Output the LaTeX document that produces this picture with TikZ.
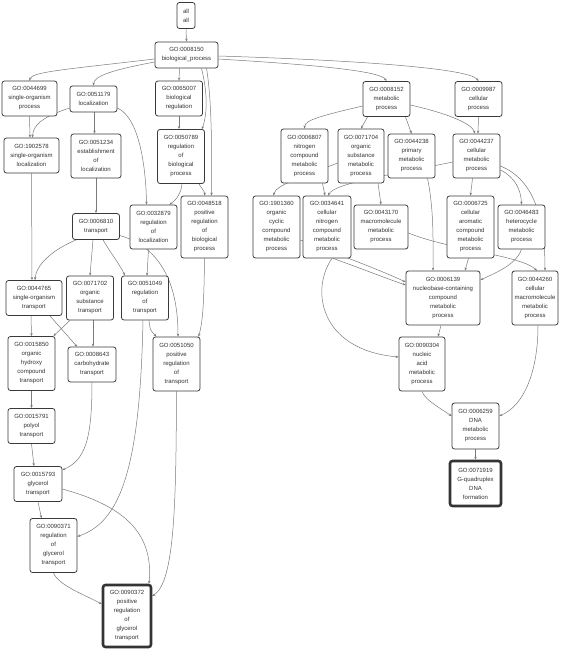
\documentclass[tikz,border=0pt]{standalone}
\usepackage{fontspec}
\setmainfont{Liberation Sans}
\usetikzlibrary{arrows.meta,backgrounds}
\definecolor{edgecol}{HTML}{7A7A7A}
\definecolor{boxcol}{HTML}{3A3A3A}
\definecolor{txtcol}{HTML}{333333}
\begin{document}
\begin{tikzpicture}[x=1pt,y=-1pt,
  gobox/.style={draw=boxcol, line width=0.8pt, rounded corners=2.5pt, fill=white,
    align=center, font=\fontsize{6}{9}\selectfont, text=txtcol, inner sep=0pt,
    minimum width=47pt},
  leafbox/.style={gobox, line width=2.6pt, draw=boxcol!90!black},
  h2/.style={minimum height=26pt},
  h3/.style={minimum height=35pt},
  h4/.style={minimum height=44pt},
  h5/.style={minimum height=54pt},
  h6/.style={minimum height=62pt},
  edge/.style={draw=edgecol, line width=0.5pt, -{Stealth[length=3pt,width=2.4pt]}}]
\useasboundingbox (0,0) rectangle (567,651);
% ---------- nodes ----------
\node[gobox,h2,minimum width=18pt] (nall) at (186,15.5) {all\\all};
\node[gobox,h2,minimum width=63pt] (n8150) at (186.5,55) {GO:0008150\\biological\_process};
\node[gobox,h3,minimum width=55pt] (n44699) at (29.5,98.5) {GO:0044699\\single-organism\\process};
\node[gobox,h2] (n51179) at (93.5,99) {GO:0051179\\localization};
\node[gobox,h3] (n65007) at (179,98.5) {GO:0065007\\biological\\regulation};
\node[gobox,h5] (n50789) at (181,156.5) {GO:0050789\\regulation\\of\\biological\\process};
\node[gobox,h3,minimum width=55pt] (n1902578) at (31.5,155.5) {GO:1902578\\single-organism\\localization};
\node[gobox,h4,minimum width=50pt] (n51234) at (96,156) {GO:0051234\\establishment\\of\\localization};
\node[gobox,h2] (n6810) at (96,226.5) {GO:0006810\\transport};
\node[gobox,h4] (n32879) at (153.5,227) {GO:0032879\\regulation\\of\\localization};
\node[gobox,h6] (n48518) at (204.5,227) {GO:0048518\\positive\\regulation\\of\\biological\\process};
\node[gobox,h3,minimum width=56pt] (n44765) at (34,298) {GO:0044765\\single-organism\\transport};
\node[gobox,h4] (n71702) at (90,298) {GO:0071702\\organic\\substance\\transport};
\node[gobox,h4] (n51049) at (145,298) {GO:0051049\\regulation\\of\\transport};
\node[gobox,h5] (n15850) at (31.5,363.5) {GO:0015850\\organic\\hydroxy\\compound\\transport};
\node[gobox,h3,minimum width=48pt] (n8643) at (92,364.5) {GO:0008643\\carbohydrate\\transport};
\node[gobox,h5] (n51050) at (176.5,364) {GO:0051050\\positive\\regulation\\of\\transport};
\node[gobox,h3] (n15791) at (31.5,426) {GO:0015791\\polyol\\transport};
\node[gobox,h3,minimum width=48pt] (n15793) at (38,484) {GO:0015793\\glycerol\\transport};
\node[gobox,h5] (n90371) at (53.5,545.5) {GO:0090371\\regulation\\of\\glycerol\\transport};
\node[leafbox,h6,minimum width=48pt,minimum height=62pt] (n90372) at (127,616) {GO:0090372\\positive\\regulation\\of\\glycerol\\transport};
% right part
\node[gobox,h3] (n8152) at (386.5,99) {GO:0008152\\metabolic\\process};
\node[gobox,h3] (n9987) at (478.5,99) {GO:0009987\\cellular\\process};
\node[gobox,h5] (n6807) at (304.5,156) {GO:0006807\\nitrogen\\compound\\metabolic\\process};
\node[gobox,h5,minimum width=46pt] (n71704) at (361,156) {GO:0071704\\organic\\substance\\metabolic\\process};
\node[gobox,h4] (n44238) at (411.5,156) {GO:0044238\\primary\\metabolic\\process};
\node[gobox,h4] (n44237) at (476.5,156) {GO:0044237\\cellular\\metabolic\\process};
\node[gobox,h6] (n1901360) at (276.5,227) {GO:1901360\\organic\\cyclic\\compound\\metabolic\\process};
\node[gobox,h6,minimum width=48pt] (n34641) at (327,227) {GO:0034641\\cellular\\nitrogen\\compound\\metabolic\\process};
\node[gobox,h4,minimum width=54pt] (n43170) at (381,227) {GO:0043170\\macromolecule\\metabolic\\process};
\node[gobox,h6] (n6725) at (470.5,227) {GO:0006725\\cellular\\aromatic\\compound\\metabolic\\process};
\node[gobox,h4] (n46483) at (521.5,227) {GO:0046483\\heterocycle\\metabolic\\process};
\node[gobox,h5,minimum width=74pt] (n6139) at (443,298) {GO:0006139\\nucleobase-containing\\compound\\metabolic\\process};
\node[gobox,h5,minimum width=46pt] (n44260) at (535,298) {GO:0044260\\cellular\\macromolecule\\metabolic\\process};
\node[gobox,h5,minimum width=46pt] (n90304) at (422,364) {GO:0090304\\nucleic\\acid\\metabolic\\process};
\node[gobox,h4,minimum height=46pt] (n6259) at (475.5,426) {GO:0006259\\DNA\\metabolic\\process};
\node[leafbox,h4,minimum width=51pt,minimum height=45pt] (n71919) at (475.5,483.5) {GO:0071919\\G-quadruplex\\DNA\\formation};
% ---------- edges ----------
\begin{pgfonlayer}{background}
\fill[white] (0,0) rectangle (567,651);
\draw[edge] (nall.south) -- (n8150.north);
\draw[edge] ([yshift=-4pt]n8150.west) .. controls (60,70) and (32,72) .. (n44699.north);
\draw[edge] ([yshift=-7pt]n8150.west) .. controls (112,70) and (94,76) .. (n51179.north);
\draw[edge] ([xshift=-7pt]n8150.south) -- ([xshift=0pt]n65007.north);
\draw[edge] ([xshift=15pt]n8150.south) .. controls (207,90) and (208,112) .. ([xshift=21pt]n50789.north);
\draw[edge] ([xshift=20pt]n8150.south) .. controls (212,100) and (212,160) .. ([xshift=7pt]n48518.north);
\draw[edge] ([yshift=-4pt]n8150.east) .. controls (300,64) and (380,70) .. (n8152.north);
\draw[edge] ([yshift=-1pt]n8150.east) .. controls (350,60) and (470,68) .. ([xshift=0pt]n9987.north);
\draw[edge] (n44699.south) -- ([xshift=-1.5pt]n1902578.north);
\draw[edge] ([yshift=-9pt]n51179.west) .. controls (45,116) and (33,124) .. ([xshift=1pt]n1902578.north);
\draw[edge] ([xshift=1pt]n51179.south) -- ([xshift=-1.5pt]n51234.north);
\draw[edge] ([yshift=-9pt]n51179.east) .. controls (140,118) and (146,170) .. ([xshift=-7pt]n32879.north);
\draw[edge] (n65007.south) -- ([xshift=-2pt]n50789.north);
\draw[edge] ([xshift=1pt]n50789.south) .. controls (181,194) and (176,200) .. ([xshift=16pt]n32879.north);
\draw[edge] ([xshift=18pt]n50789.south) .. controls (202,189) and (205,192) .. (n48518.north);
\draw[edge] (n1902578.south) -- ([xshift=-2pt]n44765.north);
\draw[edge] (n51234.south) -- (n6810.north);
\draw[edge] ([xshift=-20pt]n6810.south) .. controls (52,250) and (36,265) .. ([xshift=1pt]n44765.north);
\draw[edge] ([xshift=-3pt]n6810.south) -- (n71702.north);
\draw[edge] ([xshift=7pt]n6810.south) .. controls (112,255) and (120,265) .. ([xshift=-20pt]n51049.north);
\draw[edge] ([yshift=-9pt]n6810.east) .. controls (170,250) and (178,300) .. ([xshift=1.5pt]n51050.north);
\draw[edge] ([xshift=-5pt]n32879.south) -- ([xshift=2pt]n51049.north);
\draw[edge] (n48518.south) .. controls (204,300) and (203,322) .. ([xshift=22pt]n51050.north);
\draw[edge] ([xshift=-3pt]n44765.south) -- (n15850.north);
\draw[edge] ([xshift=16pt]n44765.south) -- ([xshift=-15pt]n8643.north);
\draw[edge] ([xshift=-20pt]n71702.south) .. controls (62,327) .. ([xshift=22pt]n15850.north);
\draw[edge] ([xshift=3pt]n71702.south) -- ([xshift=1pt]n8643.north);
\draw[edge] ([xshift=4pt]n51049.south) .. controls (150,330) .. ([xshift=-20pt]n51050.north);
\draw[edge] ([xshift=-2pt]n51049.south) .. controls (140,470) and (120,522) .. ([yshift=9pt]n90371.east);
\draw[edge] (n15850.south) -- (n15791.north);
\draw[edge] (n15791.south) -- ([xshift=-4pt]n15793.north);
\draw[edge] (n8643.south) .. controls (92,440) and (85,460) .. ([yshift=14pt]n15793.east);
\draw[edge] (n15793.south) -- ([xshift=-12pt]n90371.north);
\draw[edge] ([yshift=-5pt]n15793.east) .. controls (120,505) and (154,530) .. ([xshift=22pt]n90372.north);
\draw[edge] (n90371.south) .. controls (58,585) and (85,595) .. ([yshift=12pt]n90372.west);
\draw[edge] (n51050.south) .. controls (176,500) and (175,582) .. ([yshift=20pt]n90372.east);
% right
\draw[edge] ([yshift=-7pt]n8152.west) .. controls (320,116) and (305,120) .. (n6807.north);
\draw[edge] ([xshift=-19pt]n8152.south) -- (n71704.north);
\draw[edge] ([xshift=19pt]n8152.south) -- (n44238.north);
\draw[edge] ([yshift=-6pt]n8152.east) .. controls (450,114) and (472,124) .. ([xshift=-1.5pt]n44237.north);
\draw[edge] (n9987.south) -- ([xshift=1.5pt]n44237.north);
\draw[edge] ([yshift=-7pt]n71704.west) .. controls (300,178) and (276,185) .. ([xshift=-3pt]n1901360.north);
\draw[edge] ([xshift=18pt]n6807.south) -- ([xshift=-2pt]n34641.north);
\draw[edge] ([yshift=-6pt]n44237.west) .. controls (390,175) and (335,183) .. ([xshift=1pt]n34641.north);
\draw[edge] ([xshift=17pt]n71704.south) -- (n43170.north);
\draw[edge] ([xshift=16pt]n44238.south) .. controls (434,210) and (433,240) .. ([xshift=-10pt]n6139.north);
\draw[edge] ([xshift=-4pt]n44237.south) -- (n6725.north);
\draw[edge] ([yshift=-14pt]n44237.east) .. controls (515,177) and (521,190) .. (n46483.north);
\draw[edge] ([yshift=-10pt]n44237.east) .. controls (535,180) and (545,220) .. ([xshift=10pt]n44260.north);
\draw[edge] ([yshift=-13pt]n1901360.east) .. controls (340,255) and (380,270) .. ([yshift=16pt]n6139.west);
\draw[edge] ([xshift=6pt]n34641.south) .. controls (360,268) and (385,278) .. ([yshift=13pt]n6139.west);
\draw[edge] ([xshift=5pt]n34641.south) .. controls (310,290) and (320,350) .. ([yshift=7pt]n90304.west);
\draw[edge] ([yshift=-6pt]n43170.east) .. controls (450,250) and (520,255) .. ([xshift=2pt]n44260.north);
\draw[edge] ([xshift=-2pt]n6725.south) -- ([xshift=22pt]n6139.north);
\draw[edge] (n46483.south) .. controls (516,265) and (495,273) .. ([yshift=18pt]n6139.east);
\draw[edge] ([xshift=-2pt]n6139.south) -- ([xshift=16pt]n90304.north);
\draw[edge] ([xshift=3pt]n44260.south) .. controls (538,370) and (525,405) .. ([yshift=10pt]n6259.east);
\draw[edge] (n90304.south) .. controls (425,400) and (440,408) .. ([yshift=10pt]n6259.west);
\draw[edge] (n6259.south) -- (n71919.north);
\end{pgfonlayer}
\end{tikzpicture}
\end{document}
